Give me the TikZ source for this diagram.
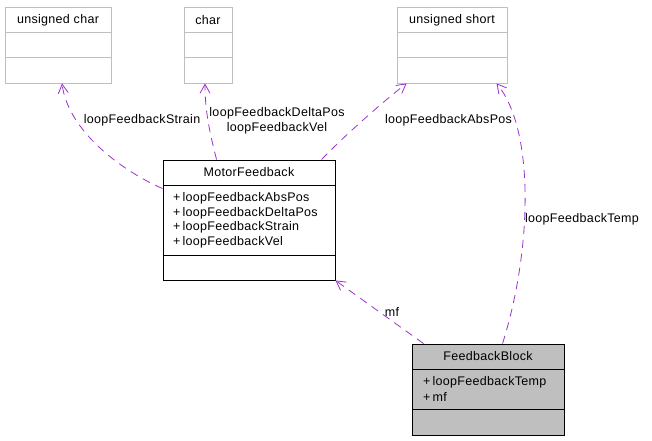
\documentclass[tikz,border=0pt]{standalone}
\usepackage{fontspec}
\setmainfont[LetterSpace=2.5]{Liberation Sans}
\usetikzlibrary{arrows.meta,calc}
\definecolor{edgec}{RGB}{154,50,205}
\definecolor{boxgray}{RGB}{191,191,191}
\begin{document}
\begin{tikzpicture}[x=1pt,y=-1pt,
  txt/.style={font=\fontsize{12.5}{14.5}\selectfont, inner sep=0pt, text=black},
  extbox/.style={draw=boxgray, line width=0.9pt, fill=white, minimum height=76pt, inner sep=0pt},
  classbox/.style={draw=black, line width=0.9pt, inner sep=0pt},
  usage/.style={draw=edgec, line width=0.8pt, dash pattern=on 8pt off 6pt,
    -{Straight Barb[length=9pt,width=10pt,line width=0.8pt]}},
  lbl/.style={txt, align=center}]
\useasboundingbox (0,0) rectangle (652,440);

% external types
\node[extbox, minimum width=106pt] (uchar) at (58,45) {};
\draw[boxgray, line width=0.9pt] (5,32) -- (111,32) (5,57) -- (111,57);
\node[txt] (ucharT) at (58,20) {unsigned char};

\node[extbox, minimum width=48pt] (chr) at (208,45) {};
\draw[boxgray, line width=0.9pt] (184,32) -- (232,32) (184,57) -- (232,57);
\node[txt] (chrT) at (208,20) {char};

\node[extbox, minimum width=110pt] (ushort) at (452,45) {};
\draw[boxgray, line width=0.9pt] (397,32) -- (507,32) (397,57) -- (507,57);
\node[txt] (ushortT) at (452,20) {unsigned short};

% MotorFeedback
\node[classbox, fill=white, minimum width=172pt, minimum height=120pt] (motor) at (249,220) {};
\draw[black, line width=0.9pt] (163,185) -- (335,185) (163,255) -- (335,255);
\node[txt] (motorT) at (249,172.5) {MotorFeedback};
\node[txt, anchor=west] (m1) at (173,198.5) {+\,loopFeedbackAbsPos};
\node[txt, anchor=west] (m2) at (173,213) {+\,loopFeedbackDeltaPos};
\node[txt, anchor=west] (m3) at (173,227.5) {+\,loopFeedbackStrain};
\node[txt, anchor=west] (m4) at (173,242) {+\,loopFeedbackVel};

% FeedbackBlock
\node[classbox, fill=boxgray, minimum width=152pt, minimum height=91pt] (fb) at (488,389.5) {};
\draw[black, line width=0.9pt] (412,369) -- (564,369) (412,409) -- (564,409);
\node[txt] (fbT) at (488,356.5) {FeedbackBlock};
\node[txt, anchor=west] (f1) at (423,382) {+\,loopFeedbackTemp};
\node[txt, anchor=west] (f2) at (423,396.5) {+\,mf};

% connectors
\draw[usage] ($(motor.north west)+(0,29)$) .. controls (120,170) and (68,130) .. ($(uchar.south)+(4,0)$);
\node[lbl] (lStrain) at (142,120) {loopFeedbackStrain};

\draw[usage] ($(motor.north west)+(54,0)$) .. controls (209,130) and (205,110) .. ($(chr.south)+(-3,0)$);
\node[lbl] (lDelta) at (277,121) {loopFeedbackDeltaPos\\loopFeedbackVel};

\draw[usage] ($(motor.north west)+(159,0)$) .. controls (345,135) and (385,100) .. ($(ushort.south west)+(10,0)$);
\node[lbl] (lAbs) at (448.5,120) {loopFeedbackAbsPos};

\draw[usage] ($(fb.north west)+(91,0)$) .. controls (532,250) and (535,130) .. ($(ushort.south west)+(100,0)$);
\node[lbl] (lTemp) at (582,219) {loopFeedbackTemp};

\draw[usage] ($(fb.north west)+(12,0)$) -- (motor.south east);
\node[lbl] (lmf) at (392,312) {mf};
\end{tikzpicture}
\end{document}
